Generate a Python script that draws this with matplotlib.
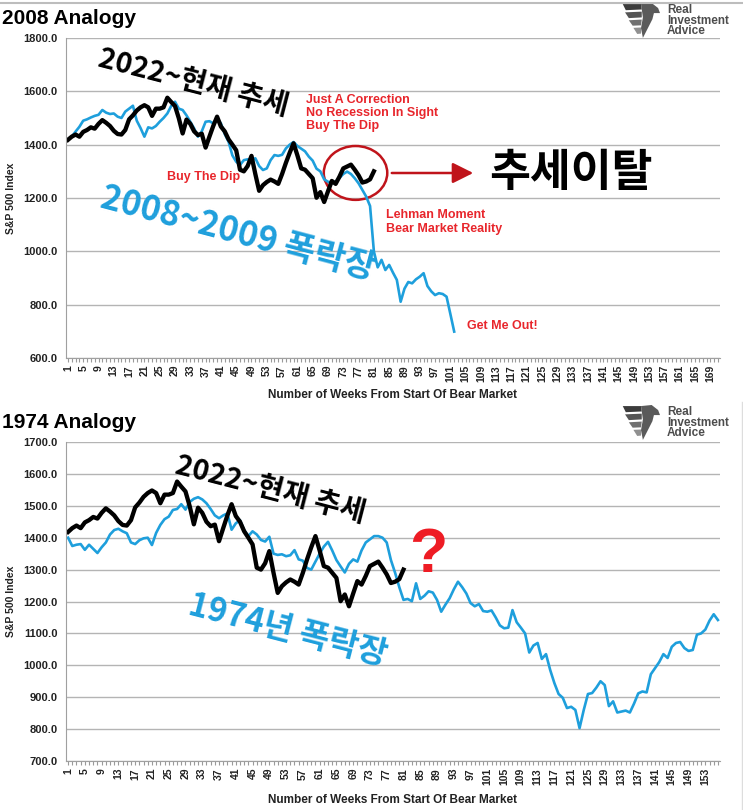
import numpy as np
import matplotlib
matplotlib.use("Agg")
from matplotlib import pyplot as plt
from matplotlib.patches import Ellipse, Polygon, FancyArrowPatch
from matplotlib.lines import Line2D

plt.rcParams['font.family'] = ['Liberation Sans', 'Noto Sans CJK KR', 'DejaVu Sans']

# S&P 500 index, week number from start of bear market
current_2022 = [
    1418, 1430, 1438, 1430, 1448, 1455, 1465, 1460, 1478, 1492,
    1482, 1470, 1452, 1440, 1438, 1455, 1495, 1510, 1528, 1540,
    1548, 1540, 1508, 1535, 1535, 1540, 1576, 1560, 1545, 1499,
    1442, 1494, 1478, 1450, 1436, 1441, 1389, 1430, 1470, 1505,
    1468, 1450, 1420, 1400, 1379, 1306, 1300, 1320, 1358, 1290,
    1227, 1248, 1260, 1269, 1262, 1253, 1290, 1332, 1370, 1405,
    1360, 1311, 1306, 1290, 1274, 1201, 1222, 1185, 1225, 1264,
    1253, 1280, 1311, 1318, 1325, 1306, 1285, 1258, 1262, 1270,
    1300]

crash_2008 = [
    1420, 1430, 1449, 1467, 1490, 1495, 1502, 1508, 1512, 1530,
    1520, 1515, 1517, 1505, 1500, 1524, 1535, 1546, 1490, 1462,
    1430, 1465, 1461, 1470, 1486, 1500, 1517, 1545, 1561, 1535,
    1530, 1510, 1486, 1461, 1430, 1450, 1486, 1488, 1480, 1499,
    1480, 1440, 1411, 1360, 1336, 1324, 1342, 1345, 1340, 1349,
    1320, 1305, 1311, 1342, 1361, 1358, 1362, 1386, 1400, 1410,
    1395, 1385, 1375, 1355, 1340, 1310, 1300, 1270, 1261, 1255,
    1262, 1275, 1290, 1299, 1290, 1274, 1255, 1230, 1205, 1170,
    1000, 940, 968, 930, 949, 920, 893, 811, 860, 885,
    880, 895, 905, 918, 870, 850, 836, 843, 840, 830,
    765, 699]

crash_1974 = [
    1400, 1374, 1378, 1380, 1362, 1378, 1365, 1352, 1370, 1385,
    1410, 1424, 1428, 1420, 1414, 1385, 1380, 1392, 1398, 1400,
    1377, 1415, 1440, 1458, 1466, 1487, 1490, 1505, 1488, 1512,
    1522, 1527, 1520, 1508, 1490, 1470, 1461, 1470, 1476, 1425,
    1445, 1455, 1424, 1405, 1420, 1410, 1393, 1388, 1403, 1350,
    1346, 1348, 1342, 1345, 1361, 1332, 1328, 1305, 1300, 1325,
    1350, 1372, 1387, 1360, 1330, 1310, 1291, 1318, 1332, 1325,
    1360, 1385, 1395, 1405, 1405, 1400, 1385, 1330, 1290, 1245,
    1205, 1208, 1201, 1257, 1208, 1218, 1232, 1228, 1205, 1168,
    1190, 1210, 1238, 1262, 1245, 1225, 1195, 1185, 1192, 1170,
    1168, 1172, 1150, 1125, 1116, 1118, 1173, 1135, 1118, 1100,
    1040, 1062, 1070, 1020, 1035, 985, 944, 910, 898, 866,
    870, 860, 803, 860, 910, 913, 930, 950, 938, 872,
    887, 852, 855, 858, 852, 880, 912, 918, 915, 972,
    991, 1010, 1035, 1023, 1058, 1070, 1073, 1054, 1045, 1048,
    1096, 1100, 1112, 1140, 1160, 1142]

axis_weeks_top = 171
axis_weeks_bottom = 156

W, H = 743, 810
BLUE = '#1e9fdc'
RED = '#e8262c'
DARKRED = '#c0141b'
GRID = '#b4b4b4'
KR = ['Noto Sans CJK KR', 'DejaVu Sans']


def fx(x):
    return x / W


def fy(y):
    return 1 - y / H


fig = plt.figure(figsize=(W / 100, H / 100), dpi=100)


def panel(top, bottom, ymin, ymax, ystep, n):
    ax = fig.add_axes([fx(66), fy(bottom), (720 - 66) / W, (bottom - top) / H])
    ax.set_xlim(0.5, n + 0.5)
    ax.set_ylim(ymin, ymax)
    ax.set_yticks(np.arange(ymin, ymax + 1, ystep))
    ax.set_yticklabels([f"{v:.1f}" for v in np.arange(ymin, ymax + 1, ystep)])
    ax.set_xticks(np.arange(1, n + 1, 4))
    ax.set_xticklabels([str(v) for v in np.arange(1, n + 1, 4)], rotation=90)
    ax.set_xticks(np.arange(1, n + 1), minor=True)
    ax.tick_params(axis='x', which='both', length=3, width=0.8, color='#9a9a9a',
                   labelsize=7.5, pad=2)
    ax.tick_params(axis='y', length=0, labelsize=8, pad=6)
    for lbl in ax.get_xticklabels() + ax.get_yticklabels():
        lbl.set_fontweight('bold')
        lbl.set_color('#222222')
    ax.grid(axis='y', color=GRID, lw=1.0)
    ax.set_axisbelow(True)
    for s in ['top', 'right']:
        ax.spines[s].set_visible(False)
    ax.spines['left'].set_color('#a0a0a0')
    ax.spines['bottom'].set_color('#a0a0a0')
    ax.set_ylabel('S&P 500 Index', fontsize=7.5, fontweight='bold', color='#222222')
    ax.yaxis.set_label_coords(-0.076, 0.5)
    return ax


def logo(top):
    ia = fig.add_axes([fx(622), fy(top + 36), 38 / W, 36 / H])
    ia.set_xlim(0, 1)
    ia.set_ylim(0, 1)
    ia.axis('off')
    shapes = [
        ([(0.02, 0.97), (0.5, 0.97), (0.52, 0.82), (0.1, 0.8)], '#3c3c3c'),
        ([(0.08, 0.74), (0.52, 0.76), (0.52, 0.6), (0.18, 0.58)], '#555555'),
        ([(0.18, 0.52), (0.52, 0.54), (0.5, 0.38), (0.28, 0.37)], '#707070'),
        ([(0.3, 0.31), (0.5, 0.32), (0.5, 0.15), (0.4, 0.14)], '#909090'),
        ([(0.5, 0.97), (0.78, 1.0), (0.95, 0.86), (1.0, 0.72), (0.84, 0.72),
          (0.8, 0.55), (0.68, 0.3), (0.55, 0.03), (0.5, 0.3), (0.55, 0.6)], '#5a5a5a'),
    ]
    for pts, c in shapes:
        ia.add_patch(Polygon(pts, closed=True, facecolor=c, edgecolor='none'))
    fig.text(fx(667), fy(top + 1), 'Real\nInvestment\nAdvice', fontsize=8.5,
             fontweight='bold', color='#4d4d4d', va='top', ha='left', linespacing=0.85)


# borders
fig.add_artist(Line2D([0, 1], [fy(3), fy(3)], color='#bdbdbd', lw=1.5))
fig.add_artist(Line2D([fx(742), fx(742)], [fy(402), 0], color='#dddddd', lw=1))

# ---------------- 2008 analogy ----------------
ax1 = panel(38, 358, 600, 1800, 200, axis_weeks_top)
ax1.plot(np.arange(1, len(crash_2008) + 1), crash_2008, color=BLUE, lw=1.9)
ax1.plot(np.arange(1, len(current_2022) + 1), current_2022, color='black', lw=3.1)
fig.text(fx(2), fy(18), '2008 Analogy', fontsize=15, fontweight='bold', va='center')
fig.text(fx(393), fy(395), 'Number of Weeks From Start Of Bear Market', fontsize=8.5,
         fontweight='bold', ha='center', va='center', color='#222222')
logo(3)

fig.text(fx(193), fy(83), '2022~현재 추세', family=KR, fontsize=20.5, fontweight='bold',
         rotation=-14.5, ha='center', va='center', rotation_mode='anchor')
fig.text(fx(238), fy(233), '2008~2009 폭락장', family=KR, fontsize=24.5, fontweight='bold',
         rotation=-14.8, ha='center', va='center', rotation_mode='anchor', color=BLUE)
fig.text(fx(306), fy(113), 'Just A Correction\nNo Recession In Sight\nBuy The Dip',
         fontsize=9, fontweight='bold', color=RED, va='center', linespacing=1.15)
fig.text(fx(167), fy(177), 'Buy The Dip', fontsize=9, fontweight='bold', color=RED,
         va='center')
fig.text(fx(386), fy(222), 'Lehman Moment\nBear Market Reality', fontsize=9,
         fontweight='bold', color=RED, va='center', linespacing=1.15)
fig.text(fx(467), fy(326), 'Get Me Out!', fontsize=9, fontweight='bold', color=RED,
         va='center')
ax1.add_patch(Ellipse((76.2, 1294), 16.6, 202, facecolor='none', edgecolor=DARKRED,
                      lw=1.8))
fig.add_artist(FancyArrowPatch(
    (fx(389), fy(173)), (fx(476), fy(173)), transform=fig.transFigure,
    arrowstyle='-|>,head_length=0.9,head_width=0.45', mutation_scale=14,
    color=DARKRED, lw=1.8))
fig.text(fx(571), fy(173), '추세이탈', family=KR, fontsize=32, fontweight='bold',
         ha='center', va='center')

# ---------------- 1974 analogy ----------------
ax2 = panel(442, 761, 700, 1700, 100, axis_weeks_bottom)
ax2.plot(np.arange(1, len(crash_1974) + 1), crash_1974, color=BLUE, lw=1.9)
ax2.plot(np.arange(1, len(current_2022) + 1), current_2022, color='black', lw=3.1)
fig.text(fx(2), fy(422), '1974 Analogy', fontsize=15, fontweight='bold', va='center')
fig.text(fx(393), fy(800), 'Number of Weeks From Start Of Bear Market', fontsize=8.5,
         fontweight='bold', ha='center', va='center', color='#222222')
logo(405)

fig.text(fx(270), fy(490), '2022~현재 추세', family=KR, fontsize=20.5, fontweight='bold',
         rotation=-14.5, ha='center', va='center', rotation_mode='anchor')
fig.text(fx(288), fy(630), '1974년 폭락장', family=KR, fontsize=23.5, fontweight='bold',
         rotation=-14.5, ha='center', va='center', rotation_mode='anchor', color=BLUE)
fig.text(fx(428), fy(556), '?', fontsize=45, fontweight='bold', color='#ee1c24',
         ha='center', va='center')

fig.savefig('out.png', dpi=100)
